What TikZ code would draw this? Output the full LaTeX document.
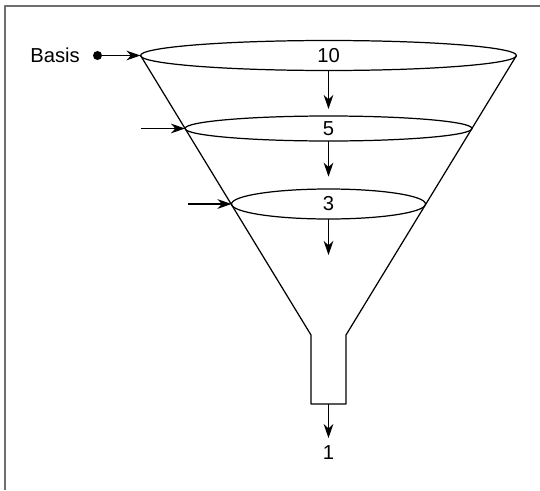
\documentclass[tikz,border=0pt]{standalone}
\usepackage{fontspec}
\setmainfont{Liberation Sans}
\definecolor{fnlgray}{RGB}{110,110,110}
\usepackage{tikz}
\usetikzlibrary{arrows.meta,positioning,shapes.geometric}

\begin{document}
\begin{tikzpicture}[x=0.02cm, y=-0.02cm, line join=round,
  every node/.style={font=\fontsize{11.5}{13}\selectfont},
  ring/.style={draw, ellipse, inner sep=0pt, outer sep=0pt, line width=0.7pt},
  flow/.style={-{Stealth[length=8pt, width=5.5pt, inset=2.5pt]}, line width=0.7pt},
  wall/.style={line width=0.7pt},
  frame/.style={fnlgray, line width=1.4pt}]
\useasboundingbox (0,0) rectangle (540,490);
% Frame
\draw[frame] (5,490) -- (5,6) -- (540,6);
% Levels of the funnel
\node[ring, minimum width=7.52cm, minimum height=0.6cm] (top) at (328.5,55.5) {10};
\node[ring, minimum width=5.74cm, minimum height=0.5cm] (mid) at (328.5,128.5) {5};
\node[ring, minimum width=3.88cm, minimum height=0.6cm] (low) at (328.5,204) {3};
% Funnel walls and pipe
\coordinate (pipeL) at (311,335);
\coordinate (pipeR) at (346,335);
\coordinate (pipeBL) at (311,404);
\coordinate (pipeBR) at (346,404);
\coordinate (pipeB) at (328.5,404);
\draw[wall] (top.west) -- (pipeL) -- (pipeBL) -- (pipeBR) -- (pipeR) -- (top.east);
% Inputs
\node[anchor=east] (basis) at (86,55.5) {Basis};
\coordinate (dot) at (97.5,55.5);
\fill (dot) circle (4.5);
\draw[flow] (dot) -- (top.west);
\coordinate (in2) at (141,128.5);
\coordinate (in3) at (188,204);
\draw[flow] (in2) -- (mid.west);
\draw[flow] (in3) -- (low.west);
% Flow downwards
\coordinate (out3) at (328.5,255);
\node (one) at (328.5,453) {1};
\draw[flow, shorten >=4pt] (top.south) -- (mid.north);
\draw[flow, shorten >=7pt] (mid.south) -- (low.north);
\draw[flow] (low.south) -- (out3);
\draw[flow, shorten >=1pt] (pipeB) -- (one.north);
\end{tikzpicture}
\end{document}
